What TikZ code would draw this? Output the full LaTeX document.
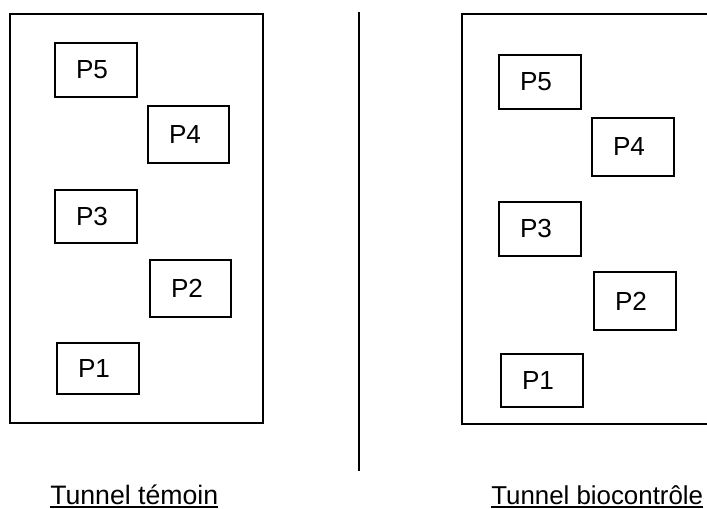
\documentclass[tikz,border=0pt]{standalone}
\usepackage{fontspec}
\setmainfont{Liberation Sans}
\newcommand{\myul}[1]{\vtop{\hbox{#1}\kern1.3pt\hrule height 1.4pt}}
\begin{document}
\begin{tikzpicture}[x=0.75pt,y=-0.75pt,
  tunnel/.style={draw,line width=1.2pt,minimum width=#1,inner sep=0pt},
  plot/.style={draw,line width=1.2pt,text width=30pt,align=left,inner xsep=15.75pt,inner ysep=0pt,minimum height=#1,font=\fontsize{19.6}{23}\selectfont},
  label/.style={anchor=base west,inner sep=0pt,font=\fontsize{20}{24}\selectfont}]
\useasboundingbox (0,0) rectangle (707,509);
\clip (0,0) rectangle (707,509);
% tunnels
\node[tunnel=189.75pt,minimum height=306.75pt] (tunL) at (136.5,218.5) {};
\node[tunnel=187.5pt,minimum height=307.5pt] (tunR) at (587,219) {};
% left plots
\node[plot=40.5pt] (lP5) at (96,70) {P5};
\node[plot=42.75pt,text width=29.25pt] (lP4) at (188.5,134.5) {P4};
\node[plot=39.75pt] (lP3) at (96,216.5) {P3};
\node[plot=42.75pt,text width=29.25pt] (lP2) at (190.5,288.5) {P2};
\node[plot=38.25pt] (lP1) at (98,368.5) {P1};
% right plots
\node[plot=40.5pt] (rP5) at (540,82) {P5};
\node[plot=43.5pt] (rP4) at (633,147) {P4};
\node[plot=40.5pt] (rP3) at (540,229) {P3};
\node[plot=43.5pt] (rP2) at (635,301) {P2};
\node[plot=39.75pt] (rP1) at (542,380.5) {P1};
% divider
\coordinate (divtop) at (359,12);
\coordinate (divbot) at (359,471);
\draw[line width=1.2pt] (divtop) -- (divbot);
% labels
\node[label] (labL) at (50,504) {\myul{Tunnel témoin}};
\node[label,font=\fontsize{19.4}{24}\selectfont] (labR) at (491,504) {\myul{Tunnel biocontrôle}};
\end{tikzpicture}
\end{document}
